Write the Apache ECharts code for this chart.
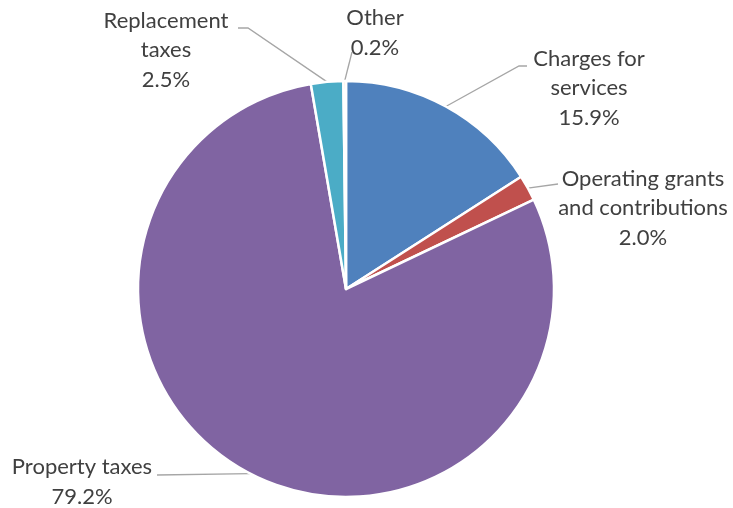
<!DOCTYPE html>
<html>
<head>
<meta charset="utf-8">
<script src="https://cdn.jsdelivr.net/npm/echarts@6/dist/echarts.min.js"></script>
<style>html,body{margin:0;padding:0;background:#fff}#c{width:733px;height:508px}</style>
</head>
<body>
<div id="c"></div>
<script>
const categories = ['Charges for\nservices', 'Operating grants\nand contributions', 'Property taxes', 'Replacement\ntaxes', 'Other'];
const values = [15.9, 2.0, 79.2, 2.5, 0.2];
const colors = ['#4F81BD', '#C0504D', '#8064A2', '#4BACC6', '#F79646'];
// label block centres (layout only)
const labelPos = [[589, 88], [643, 208], [82, 482], [166, 50], [375, 33]];
// leader line elbow and end points (layout only)
const lineElbow = [[519, 66], [558, 184], [157, 475], [248, 28], [352, 52]];
const lineEnd = [[527, 66], [558, 184], [157, 475], [238, 28], [352, 52]];

const chart = echarts.init(document.getElementById('c'));
chart.setOption({
  animation: false,
  series: [{
    type: 'pie',
    center: [346, 289],
    radius: [0, 208],
    startAngle: 90,
    clockwise: true,
    avoidLabelOverlap: false,
    itemStyle: { borderColor: '#fff', borderWidth: 2.5 },
    label: {
      show: true,
      color: '#404040',
      fontFamily: 'Lato',
      fontSize: 22,
      lineHeight: 29.5,
      align: 'center',
      formatter: p => p.name + '\n' + p.value.toFixed(1) + '%'
    },
    labelLine: { show: true, length: 15, length2: 10, lineStyle: { color: '#A6A6A6', width: 1.3 } },
    labelLayout: p => {
      const i = p.dataIndex;
      const a = p.labelLinePoints ? p.labelLinePoints[0] : null;
      const o = {
        x: labelPos[i][0],
        y: labelPos[i][1],
        align: 'center',
        verticalAlign: 'middle'
      };
      if (a) o.labelLinePoints = [[a[0], a[1]], lineElbow[i].slice(), lineEnd[i].slice()];
      return o;
    },
    data: categories.map((n, i) => ({ name: n, value: values[i], itemStyle: { color: colors[i] } }))
  }]
});
</script>
</body>
</html>
